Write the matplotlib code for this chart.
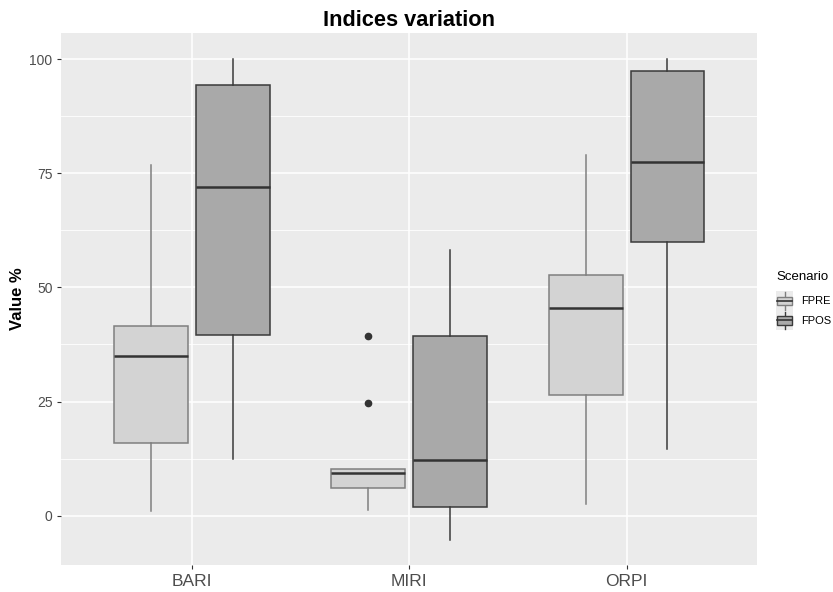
import matplotlib
matplotlib.use("Agg")
import matplotlib.pyplot as plt
from matplotlib.patches import Rectangle
from matplotlib.lines import Line2D
from matplotlib.legend_handler import HandlerBase

plt.rcParams["font.family"] = ["Liberation Sans", "DejaVu Sans"]

categories = ["BARI", "MIRI", "ORPI"]
scenarios = ["FPRE", "FPOS"]

# five-number summaries
fpre_whislo = [1.1, 1.2, 2.6]
fpre_q1 = [16.0, 6.1, 26.5]
fpre_med = [34.9, 9.4, 45.5]
fpre_q3 = [41.6, 10.2, 52.8]
fpre_whishi = [76.7, 10.2, 78.9]
fpre_fliers = [[], [24.6, 39.4], []]

fpos_whislo = [12.5, -5.3, 14.7]
fpos_q1 = [39.5, 1.9, 59.9]
fpos_med = [72.0, 12.1, 77.4]
fpos_q3 = [94.2, 39.3, 97.4]
fpos_whishi = [100.0, 58.2, 100.0]
fpos_fliers = [[], [], []]

FILLS = {"FPRE": "#D3D3D3", "FPOS": "#A9A9A9"}
EDGES = {"FPRE": "#7F7F7F", "FPOS": "#3A3A3A"}
MED = "#333333"
BG = "#EBEBEB"


def make_stats(lo, q1, med, q3, hi, fl):
    return [dict(whislo=a, q1=b, med=c, q3=d, whishi=e, fliers=f)
            for a, b, c, d, e, f in zip(lo, q1, med, q3, hi, fl)]


stats = {
    "FPRE": make_stats(fpre_whislo, fpre_q1, fpre_med, fpre_q3, fpre_whishi, fpre_fliers),
    "FPOS": make_stats(fpos_whislo, fpos_q1, fpos_med, fpos_q3, fpos_whishi, fpos_fliers),
}

fig = plt.figure(figsize=(8.33, 5.92), dpi=100)
ax = fig.add_axes([0.0738, 0.0456, 0.835, 0.8987])
ax.set_facecolor(BG)

offsets = {"FPRE": -0.188, "FPOS": 0.188}
for sc in scenarios:
    pos = [i + 1 + offsets[sc] for i in range(len(categories))]
    ax.bxp(
        stats[sc], positions=pos, widths=0.34, patch_artist=True,
        showcaps=False, manage_ticks=False,
        boxprops=dict(facecolor=FILLS[sc], edgecolor=EDGES[sc], linewidth=1.1),
        whiskerprops=dict(color=EDGES[sc], linewidth=1.1),
        medianprops=dict(color=MED, linewidth=1.8),
        flierprops=dict(marker="o", markerfacecolor="#333333",
                        markeredgecolor="#333333", markersize=4.5),
        zorder=3,
    )

ax.set_xlim(0.4, 3.6)
ax.set_ylim(-10.8, 105.7)
ax.set_xticks([1, 2, 3])
ax.set_xticklabels(categories, fontsize=12.5, color="#4D4D4D")
ax.set_yticks([0, 25, 50, 75, 100])
ax.set_yticklabels(["0", "25", "50", "75", "100"], fontsize=10, color="#4D4D4D")
ax.set_yticks([12.5, 37.5, 62.5, 87.5], minor=True)
ax.tick_params(axis="both", which="major", length=3, color="#333333", width=0.8)
ax.tick_params(axis="y", which="minor", length=0)
ax.grid(True, which="major", color="white", linewidth=1.1, zorder=0)
ax.grid(True, which="minor", axis="y", color="white", linewidth=0.6, zorder=0)
ax.set_axisbelow(True)
for s in ax.spines.values():
    s.set_visible(False)

ax.set_title("Indices variation", fontsize=15.7, fontweight="bold", pad=5)
ax.set_ylabel("Value %", fontsize=12, fontweight="bold")
ax.yaxis.set_label_coords(-0.0525, 0.5)


class BoxKey(HandlerBase):
    def create_artists(self, legend, orig, xd, yd, w, h, fontsize, trans):
        fill, edge = orig.get_label_props
        x0, y0 = -xd, -yd
        bg = Rectangle((x0, y0), w, h, facecolor=BG,
                       edgecolor="none", transform=trans)
        cx = x0 + w / 2
        wl1 = Line2D([cx, cx], [y0 + h * 0.05, y0 + h * 0.27], color=edge, lw=1, transform=trans)
        wl2 = Line2D([cx, cx], [y0 + h * 0.73, y0 + h * 0.95], color=edge, lw=1, transform=trans)
        box = Rectangle((x0 + w * 0.08, y0 + h * 0.27), w * 0.84, h * 0.46,
                        facecolor=fill, edgecolor=edge, lw=1, transform=trans)
        med = Line2D([x0 + w * 0.08, x0 + w * 0.92], [y0 + h / 2, y0 + h / 2],
                     color=MED, lw=1.2, transform=trans)
        return [bg, wl1, wl2, box, med]


class KeyProxy:
    def __init__(self, fill, edge):
        self.get_label_props = (fill, edge)


proxies = [KeyProxy(FILLS[s], EDGES[s]) for s in scenarios]
leg = fig.legend(proxies, scenarios, handler_map={KeyProxy: BoxKey()},
                 loc="upper left", bbox_to_anchor=(776 / 833, 1 - 271 / 592),
                 borderaxespad=0, borderpad=0,
                 frameon=False, title="Scenario", fontsize=8,
                 title_fontsize=9.5, handlelength=1.55, handleheight=2.3,
                 handletextpad=0.7, labelspacing=0.0)
leg._legend_box.align = "left"
leg._legend_box.sep = 6

fig.savefig("out.png", dpi=100)
